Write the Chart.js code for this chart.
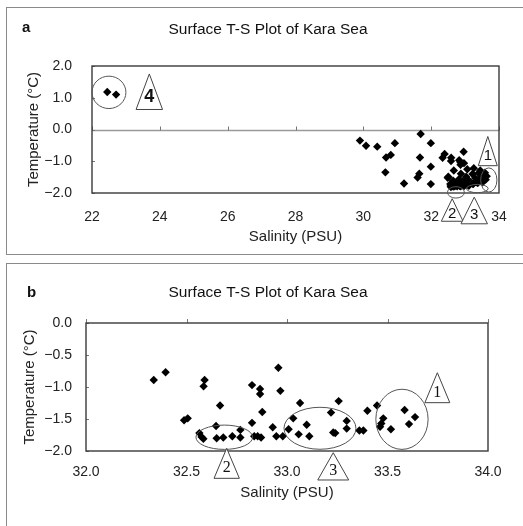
<!DOCTYPE html>
<html><head><meta charset="utf-8">
<script src="https://cdn.jsdelivr.net/npm/chart.js@4.4.1/dist/chart.umd.min.js"></script>
<style>
html,body{margin:0;padding:0;background:#fff;}
#wrap{position:relative;width:523px;height:526px;overflow:hidden;background:#fff;}
canvas{position:absolute;left:0;}
#ca{top:0;}
#cb{top:260px;}
.frame{position:absolute;border:0 solid #8a8a8a;}
#fa{left:6px;top:7px;width:530px;height:246px;border-left-width:1px;border-top-width:1px;border-bottom-width:1px;}
#fb{left:6px;top:263px;width:530px;height:300px;border-left-width:1px;border-top-width:1px;}
</style></head><body>
<div id="wrap">
<div class="frame" id="fa"></div>
<div class="frame" id="fb"></div>
<canvas id="ca" width="523" height="255"></canvas>
<canvas id="cb" width="523" height="266"></canvas>
</div>
<script>
// ---- data ----
// Stations with salinity >= 32 PSU (shown in both panels)
const salinityMain = [32.337,32.396,32.488,32.506,32.590,32.585,32.667,32.647,32.564,32.575,32.584,32.650,32.683,32.728,32.768,32.768,
  32.826,32.866,32.866,32.877,32.826,32.837,32.854,32.871,32.957,32.967,32.929,32.947,32.979,33.008,33.031,33.065,33.058,33.098,33.111,
  33.257,33.219,33.230,33.240,33.297,33.297,33.360,33.380,33.400,33.448,33.479,33.469,33.463,33.517,33.585,33.637,33.607];
const temperatureMain = [-0.89,-0.77,-1.52,-1.49,-0.89,-0.99,-1.29,-1.61,-1.72,-1.78,-1.81,-1.80,-1.79,-1.77,-1.67,-1.79,
  -0.97,-1.03,-1.11,-1.39,-1.56,-1.77,-1.77,-1.79,-0.70,-1.06,-1.63,-1.77,-1.77,-1.66,-1.49,-1.25,-1.74,-1.59,-1.77,
  -1.22,-1.40,-1.71,-1.72,-1.53,-1.65,-1.68,-1.68,-1.37,-1.29,-1.49,-1.57,-1.62,-1.66,-1.36,-1.47,-1.58];
// Lower-salinity stations (panel a only)
const salinityLow = [22.45,22.71,29.90,30.08,30.41,30.93,30.67,30.81,30.65,31.20,31.69,31.99,31.67,31.99,31.65,31.60,31.99];
const temperatureLow = [1.18,1.10,-0.35,-0.51,-0.54,-0.43,-0.88,-0.80,-1.35,-1.70,-0.14,-0.43,-0.88,-1.17,-1.39,-1.51,-1.72];

// tick values
const xTicksA = [22,24,26,28,30,32,34];
const yTicksA = [-2,-1,0,1,2];
const xTicksB = [32.0,32.5,33.0,33.5,34.0];
const yTicksB = [-2.0,-1.5,-1.0,-0.5,0.0];

const titleText = 'Surface T-S Plot of Kara Sea';
const xTitle = 'Salinity (PSU)';
const yTitle = 'Temperature (\u00B0C)';

// annotations in data units: ellipses {s,t,rs,rt}; triangles {s,t (apex), tb (base), hw, label}
const ellipsesA = [{s:22.5,t:1.17,rs:0.50,rt:0.51},{s:33.70,t:-1.59,rs:0.24,rt:0.38},{s:32.73,t:-1.98,rs:0.25,rt:0.18},{s:33.36,t:-1.86,rs:0.32,rt:0.13}];
const trianglesA = [{s:23.69,t:1.75,tb:0.63,hw:0.39,label:'4',bold:true,size:18},
  {s:33.67,t:-0.22,tb:-1.14,hw:0.28,label:'1',size:15},
  {s:32.62,t:-2.18,tb:-2.89,hw:0.32,label:'2',size:15},
  {s:33.27,t:-2.13,tb:-2.97,hw:0.39,label:'3',size:15}];
const ellipsesB = [{s:32.688,t:-1.785,rs:0.141,rt:0.19},{s:33.164,t:-1.645,rs:0.179,rt:0.328},{s:33.572,t:-1.505,rs:0.13,rt:0.47}];
const trianglesB = [{s:32.700,t:-1.958,tb:-2.427,hw:0.063,label:'2',size:16,serif:true},
  {s:33.230,t:-2.027,tb:-2.453,hw:0.077,label:'3',size:16,serif:true},
  {s:33.748,t:-0.777,tb:-1.245,hw:0.062,label:'1',size:16,serif:true}];

const FONT = "'Liberation Sans', Arial, sans-serif";
const fmtY = v => (v < -1e-9 ? '\u2212' : '') + Math.abs(v).toFixed(1);

const decor = {
  id: 'decor',
  beforeDatasetsDraw(chart, args, o) {
    const {ctx, chartArea: a, scales: {x, y}} = chart;
    ctx.save();
    let yl = a.top;
    if (o.zeroLine) {
      yl = Math.round(y.getPixelForValue(0)) + 0.5;
      ctx.strokeStyle = '#9a9a9a'; ctx.lineWidth = 1.5;
      ctx.beginPath(); ctx.moveTo(a.left, yl); ctx.lineTo(a.right, yl); ctx.stroke();
    }
    ctx.strokeStyle = '#777'; ctx.lineWidth = 1;
    x.ticks.forEach(t => {
      const px = Math.round(x.getPixelForValue(t.value)) + 0.5;
      ctx.beginPath(); ctx.moveTo(px, yl); ctx.lineTo(px, yl - 4); ctx.stroke();
    });
    y.ticks.forEach(t => {
      const py = Math.round(y.getPixelForValue(t.value)) + 0.5;
      ctx.beginPath(); ctx.moveTo(a.left, py); ctx.lineTo(a.left + 3, py); ctx.stroke();
    });
    ctx.strokeStyle = '#3a3a3a'; ctx.lineWidth = 1.4;
    ctx.strokeRect(a.left, a.top, a.right - a.left, a.bottom - a.top);
    ctx.restore();
  },
  afterDraw(chart, args, o) {
    const {ctx, scales: {x, y}} = chart;
    ctx.save();
    ctx.fillStyle = '#111';
    ctx.textBaseline = 'middle';
    ctx.font = 'bold 15px ' + FONT; ctx.textAlign = 'left';
    ctx.fillText(o.letter, o.letterX, o.letterY);
    ctx.font = '15.5px ' + FONT; ctx.textAlign = 'center';
    ctx.fillText(titleText, o.titleX, o.titleY);
    ctx.strokeStyle = '#555'; ctx.lineWidth = 1;
    (o.ellipses || []).forEach(e => {
      const cx = x.getPixelForValue(e.s), cy = y.getPixelForValue(e.t);
      const rx = Math.abs(x.getPixelForValue(e.s + e.rs) - cx);
      const ry = Math.abs(y.getPixelForValue(e.t + e.rt) - cy);
      ctx.beginPath(); ctx.ellipse(cx, cy, rx, ry, 0, 0, Math.PI * 2); ctx.stroke();
    });
    (o.triangles || []).forEach(tr => {
      const ax = x.getPixelForValue(tr.s), ay = y.getPixelForValue(tr.t);
      const by = y.getPixelForValue(tr.tb);
      const hw = Math.abs(x.getPixelForValue(tr.s + tr.hw) - ax);
      ctx.beginPath(); ctx.moveTo(ax, ay); ctx.lineTo(ax + hw, by); ctx.lineTo(ax - hw, by); ctx.closePath();
      ctx.fillStyle = '#fff'; ctx.fill(); ctx.strokeStyle = '#444'; ctx.stroke();
      ctx.fillStyle = '#111';
      ctx.font = (tr.bold ? 'bold ' : '') + tr.size + 'px ' + (tr.serif ? "'Liberation Serif', serif" : FONT);
      ctx.fillText(tr.label, ax, ay + 0.66 * (by - ay));
    });
    ctx.restore();
  }
};

function makeChart(id, cfg) {
  const pts = [];
  cfg.sx.forEach((sArr, k) => sArr.forEach((s, i) => pts.push({x: s, y: cfg.ty[k][i]})));
  return new Chart(document.getElementById(id), {
    type: 'scatter',
    data: {datasets: [{data: pts, pointStyle: 'rectRot', pointRadius: 4.2, backgroundColor: '#000', borderColor: '#000', borderWidth: 0}]},
    plugins: [decor],
    options: {
      responsive: false, animation: false, events: [],
      layout: {padding: {top: cfg.top, right: cfg.right, left: 0, bottom: 0}},
      plugins: {legend: {display: false}, tooltip: {enabled: false}, decor: cfg.decor},
      scales: {
        x: {
          type: 'linear', min: cfg.xTicks[0], max: cfg.xTicks[cfg.xTicks.length - 1],
          afterBuildTicks: s => { s.ticks = cfg.xTicks.map(v => ({value: v})); },
          afterFit: s => { s.height = cfg.xh; },
          grid: {display: false, drawTicks: false}, border: {display: false},
          ticks: {padding: cfg.xpad, color: '#222', font: {family: FONT, size: 14}, maxRotation: 0, autoSkip: false,
            callback: v => cfg.xfmt(v)},
          title: {display: true, text: xTitle, color: '#222', font: {family: FONT, size: 15}, padding: {top: 0, bottom: cfg.xtpad}}
        },
        y: {
          type: 'linear', min: cfg.yTicks[0], max: cfg.yTicks[cfg.yTicks.length - 1],
          afterBuildTicks: s => { s.ticks = cfg.yTicks.map(v => ({value: v})); },
          afterFit: s => { s.width = cfg.yw; },
          grid: {display: false, drawTicks: false}, border: {display: false},
          ticks: {padding: cfg.ypad, color: '#222', font: {family: FONT, size: 14}, autoSkip: false, callback: v => fmtY(v)},
          title: {display: true, text: yTitle, color: '#222', font: {family: FONT, size: 15}, padding: {top: cfg.ytpad, bottom: 0}}
        }
      }
    }
  });
}

makeChart('ca', {
  sx: [salinityLow, salinityMain], ty: [temperatureLow, temperatureMain],
  xTicks: xTicksA, yTicks: yTicksA, xfmt: v => String(Math.round(v)),
  top: 66, right: 24, xh: 62, yw: 92, xpad: 16, ypad: 20, xtpad: 9, ytpad: 25,
  decor: {letter: 'a', letterX: 22, letterY: 28, titleX: 268, titleY: 30, zeroLine: true, ellipses: ellipsesA, triangles: trianglesA}
});
makeChart('cb', {
  sx: [salinityMain], ty: [temperatureMain],
  xTicks: xTicksB, yTicks: yTicksB, xfmt: v => v.toFixed(1),
  top: 63, right: 35, xh: 75, yw: 86, xpad: 13, ypad: 14, xtpad: 24, ytpad: 21,
  decor: {letter: 'b', letterX: 27, letterY: 33, titleX: 268, titleY: 33, zeroLine: false, ellipses: ellipsesB, triangles: trianglesB}
});
</script>
</body></html>
